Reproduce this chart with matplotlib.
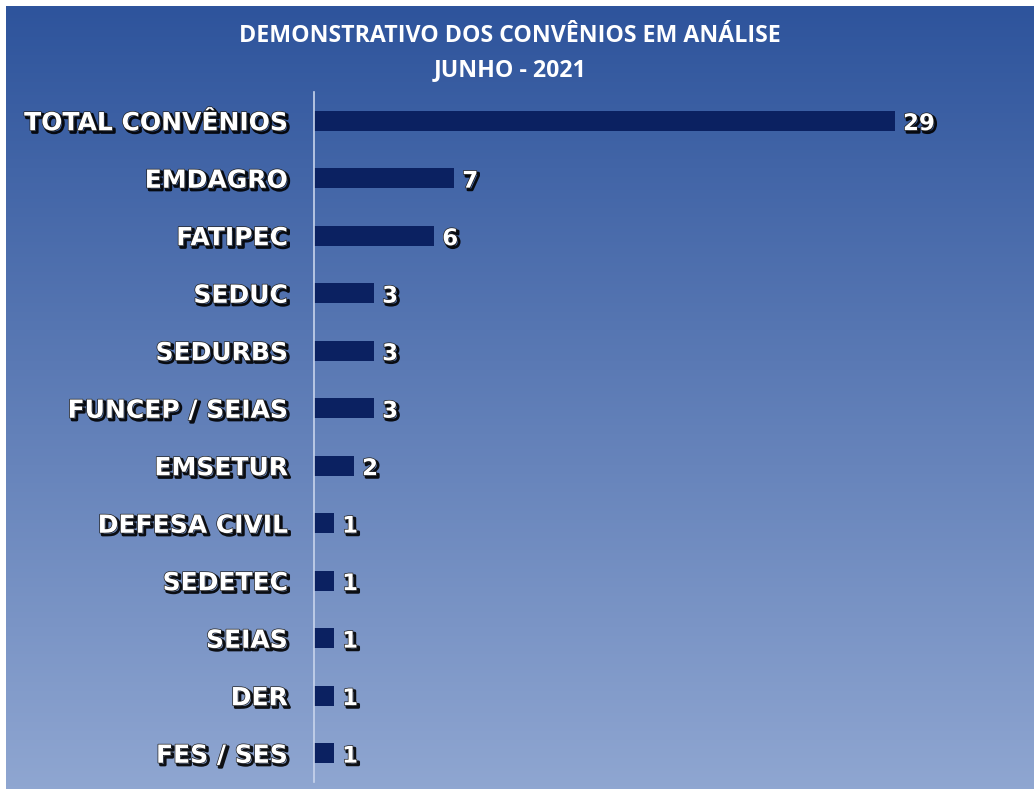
import numpy as np
import matplotlib
matplotlib.use("Agg")
import matplotlib.pyplot as plt
import matplotlib.patheffects as pe

categories = ["TOTAL CONVÊNIOS", "EMDAGRO", "FATIPEC", "SEDUC", "SEDURBS",
              "FUNCEP / SEIAS", "EMSETUR", "DEFESA CIVIL", "SEDETEC", "SEIAS",
              "DER", "FES / SES"]
values = [29, 7, 6, 3, 3, 3, 2, 1, 1, 1, 1, 1]
title_lines = ["DEMONSTRATIVO DOS CONVÊNIOS EM ANÁLISE", "JUNHO - 2021"]

W, H, DPI = 1034, 789, 100
fig = plt.figure(figsize=(W / DPI, H / DPI), dpi=DPI)
fig.patch.set_facecolor("white")

# gradient background
bg = fig.add_axes([6 / W, 0, 1 - 6 / W, 1 - 6 / H])
top = np.array([46, 84, 156]) / 255
bot = np.array([143, 166, 209]) / 255
t = np.linspace(0, 1, 256)[:, None]
grad = top * (1 - t) + bot * t
img = np.repeat(grad[:, None, :], 2, axis=1)
bg.imshow(img, aspect="auto", extent=[0, 1, 0, 1], origin="upper")
bg.set_axis_off()

# main axes
x0, x1 = 314, 1029
y_top, y_bot = 92, 782
ax = fig.add_axes([x0 / W, 1 - y_bot / H, (x1 - x0) / W, (y_bot - y_top) / H])
ax.patch.set_alpha(0)
px_per_unit = (895 - 314) / 29
ax.set_xlim(0, (x1 - x0) / px_per_unit)
ax.set_ylim(len(categories) - 0.5, -0.5)

y = np.arange(len(categories))
ax.barh(y, values, height=0.35, color="#0b2161")

for s in ["top", "right", "bottom"]:
    ax.spines[s].set_visible(False)
ax.spines["left"].set_color("#c8d4ec")
ax.spines["left"].set_linewidth(1.2)
ax.set_xticks([])
ax.set_yticks(y)
ax.set_yticklabels(categories)
ax.tick_params(axis="y", length=0, pad=19)

fx = [pe.SimpleLineShadow(offset=(1.6, -1.6), shadow_color="black", alpha=0.9, linewidth=2),
      pe.Stroke(linewidth=1.0, foreground="#222222"), pe.Normal()]
for lab in ax.get_yticklabels():
    lab.set_fontfamily("DejaVu Sans")
    lab.set_fontweight("bold")
    lab.set_fontsize(18)
    lab.set_color("white")
    lab.set_path_effects(fx)

for yi, v in zip(y, values):
    ax.text(v + 0.4, yi + 0.05, str(v), va="center", ha="left",
            fontfamily="DejaVu Sans", fontweight="bold", fontsize=16.5, color="white",
            path_effects=fx)

fig.text(510 / W, 1 - 36 / H, title_lines[0], ha="center", va="center",
         fontfamily="Open Sans", fontweight="bold", fontsize=16.7, color="white")
fig.text(510 / W, 1 - 70 / H, title_lines[1], ha="center", va="center",
         fontfamily="Open Sans", fontweight="bold", fontsize=16.7, color="white")

fig.savefig("out.png", dpi=DPI)
